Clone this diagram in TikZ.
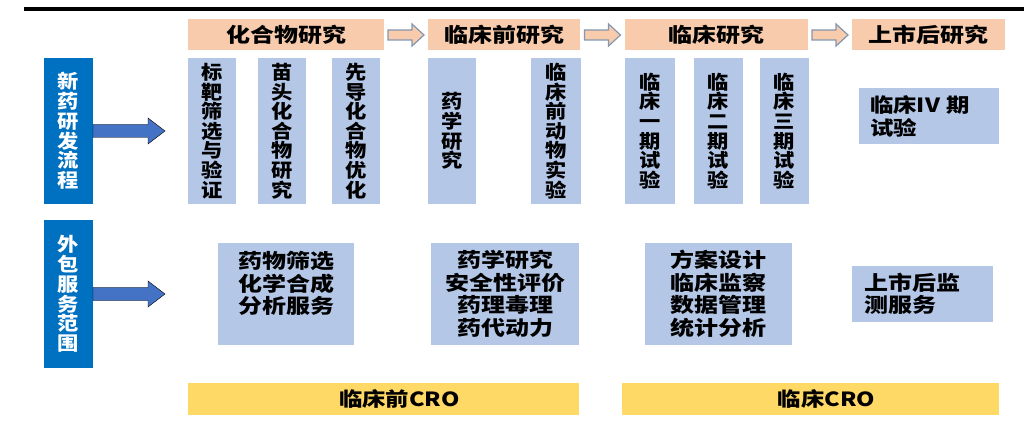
\documentclass[tikz,border=0pt]{standalone}
\usepackage{fontspec}
\usetikzlibrary{calc}
\newfontfamily\cjkv{Noto Sans CJK SC}[FakeStretch=1.12]
\newfontfamily\cjkh{Noto Sans CJK SC}[FakeStretch=1.2]
\definecolor{salmon}{HTML}{F8CBAD}
\definecolor{lightblue}{HTML}{B4C7E7}
\definecolor{darkblue}{HTML}{0070C0}
\definecolor{arrowblue}{HTML}{4472C4}
\definecolor{yellowbar}{HTML}{FFD966}
\definecolor{slate}{HTML}{8497B0}
\begin{document}
\begin{tikzpicture}[x=1pt,y=-1pt,
  box/.style={inner sep=0pt, outer sep=0pt},
  hdr/.style={box, fill=salmon, minimum height=31pt, font=\cjkh\bfseries\fontsize{20}{22}\selectfont},
  vbox/.style={box, fill=lightblue, minimum height=146pt, align=center, font=\cjkv\bfseries\fontsize{19}{19.6}\selectfont},
  dbox/.style={box, fill=darkblue, text=white, minimum width=49pt, align=center, font=\cjkv\bfseries\fontsize{19}{19.8}\selectfont},
  sbox/.style={box, fill=lightblue, align=center, font=\cjkh\bfseries\fontsize{20}{22.5}\selectfont},
  ybar/.style={box, fill=yellowbar, minimum height=32pt, font=\cjkh\bfseries\fontsize{19.5}{20}\selectfont},
  hollow/.style={fill=salmon, draw=slate, line width=1.2pt, line join=miter},
  bluearrow/.style={fill=arrowblue}
]
\fill[white] (0,0) rectangle (1024,435);
\useasboundingbox (0,0) rectangle (1024,435);

% top rule
\coordinate (r1) at (24,9);
\coordinate (r2) at (1024,9);
\draw[line width=4pt] (r1) -- (r2);

% headers
\node[hdr, minimum width=196pt] (h1) at (286,34.5) {化合物研究};
\node[hdr, minimum width=152pt] (h2) at (504,34.5) {临床前研究};
\node[hdr, minimum width=183pt] (h3) at (716.5,34.5) {临床研究};
\node[hdr, minimum width=153pt] (h4) at (928.5,34.5) {上市后研究};

% hollow arrows between headers
\foreach \a/\b in {h1/h2,h2/h3,h3/h4}{
  \draw[hollow, shift={($(\a.east)!0.5!(\b.west)+(0,0.5)$)}]
    (-18,-5) -- (6,-5) -- (6,-11) -- (18,0) -- (6,11) -- (6,5) -- (-18,5) -- cycle;
}

% left dark blue boxes
\node[dbox, minimum height=146pt] (b1) at (68.5,131) {新\\药\\研\\发\\流\\程};
\node[dbox, minimum height=148pt] (b2) at (68.5,294) {外\\包\\服\\务\\范\\围};

% blue arrows
\draw[bluearrow, shift={(b1.east)}] (0,-6.5) -- (55,-6.5) -- (55,-13) -- (72,0) -- (55,13) -- (55,6.5) -- (0,6.5) -- cycle;
\draw[bluearrow, shift={(b2.east)}] (0,-6.5) -- (55,-6.5) -- (55,-13) -- (72,0) -- (55,13) -- (55,6.5) -- (0,6.5) -- cycle;

% vertical boxes
\node[vbox, minimum width=48pt] (v1) at (212,131) {标\\靶\\筛\\选\\与\\验\\证};
\node[vbox, minimum width=48pt] (v2) at (282,131) {苗\\头\\化\\合\\物\\研\\究};
\node[vbox, minimum width=48pt] (v3) at (356,131) {先\\导\\化\\合\\物\\优\\化};
\node[vbox, minimum width=48pt] (v4) at (452,131) {药\\学\\研\\究};
\node[vbox, minimum width=50pt] (v5) at (556,131) {临\\床\\前\\动\\物\\实\\验};
\node[vbox, minimum width=50pt] (v6) at (650,131) {临\\床\\一\\期\\试\\验};
\node[vbox, minimum width=49pt] (v7) at (718.5,131) {临\\床\\二\\期\\试\\验};
\node[vbox, minimum width=49pt] (v8) at (784.5,131) {临\\床\\三\\期\\试\\验};
\node[sbox, minimum width=140pt, minimum height=56pt, text width=118pt, align=left,
      font=\cjkh\bfseries\fontsize{19.5}{23}\selectfont] (v9) at (929,116) {临床IV 期\\试验};

% service boxes
\node[sbox, minimum width=136pt, minimum height=102pt] (c1) at (286,294) {药物筛选\\化学合成\\分析服务\\\mbox{}};
\node[sbox, minimum width=148pt, minimum height=102pt] (c2) at (505,294) {药学研究\\安全性评价\\药理毒理\\药代动力};
\node[sbox, minimum width=147pt, minimum height=102pt] (c3) at (718.5,294) {方案设计\\临床监察\\数据管理\\统计分析};
\node[sbox, minimum width=141pt, minimum height=56pt, text width=117pt, align=left] (c4) at (922.5,294) {上市后监\\测服务};

% yellow bars
\node[ybar, minimum width=391pt] (y1) at (383.5,399) {\hspace*{32pt}临床前CRO};
\node[ybar, minimum width=377pt] (y2) at (810.5,399) {\hspace*{32pt}临床CRO};
\end{tikzpicture}
\end{document}
